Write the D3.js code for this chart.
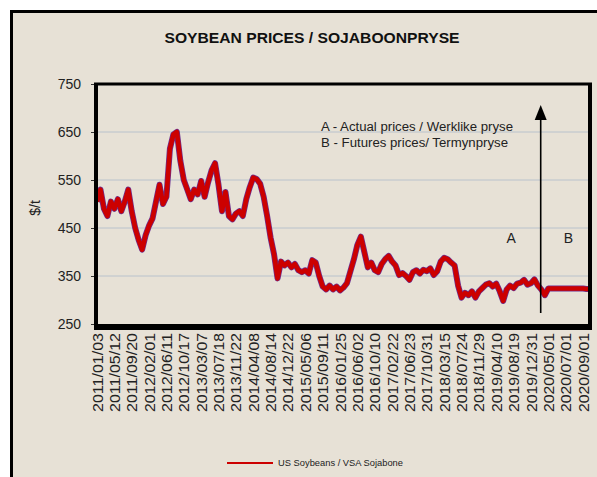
<!DOCTYPE html>
<html>
<head>
<meta charset="utf-8">
<script src="https://cdn.jsdelivr.net/npm/d3@7"></script>
<style>
  body { margin: 0; background: #fff; }
  svg { display: block; font-family: Arial, "Liberation Sans", sans-serif; }
</style>
</head>
<body>
<div id="chart"></div>
<script>
// tick labels on the category axis (one every 5 samples)
const dateLabels = [
  "2011/01/03", "2011/05/12", "2011/09/20", "2012/02/01", "2012/06/11", "2012/10/17",
  "2013/03/07", "2013/07/18", "2013/11/22", "2014/04/08", "2014/08/14", "2014/12/22",
  "2015/05/06", "2015/09/11", "2016/01/25", "2016/06/02", "2016/10/10", "2017/02/22",
  "2017/06/23", "2017/10/31", "2018/03/15", "2018/07/24", "2018/11/29", "2019/04/10",
  "2019/08/19", "2019/12/31", "2020/05/01", "2020/07/01", "2020/09/01"
];
const labelStep = 5;

// US soybean price, $/t
const prices = [
  505, 530, 490, 475, 505, 490, 510, 485, 505, 530,
  485, 450, 425, 405, 435, 455, 470, 505, 540, 500,
  515, 615, 645, 650, 590, 550, 530, 510, 530, 520,
  548, 515, 545, 570, 585, 540, 485, 525, 475, 468,
  480, 485, 475, 510, 535, 555, 552, 542, 515, 475,
  430, 395, 345, 380, 372, 378, 368, 375, 362, 358,
  362, 355, 383, 378, 350, 328, 322, 330, 322, 328,
  320, 326, 335, 360, 385, 415, 432, 400, 368, 378,
  362, 358, 375, 385, 392, 380, 372, 352, 356, 350,
  342, 358, 362, 355, 363, 360, 366, 352, 360, 380,
  388, 385, 378, 372, 330, 305, 315, 310, 318, 305,
  318, 325, 332, 335, 328, 334, 318, 298, 322, 330,
  325, 334, 336, 342, 332, 335, 343, 330, 322, 310,
  324, 324, 324, 324, 324, 324, 324, 324, 324, 324,
  324, 323, 323
];
const splitIndex = 127.8; // where actual prices (A) end and futures (B) begin

const yTicks = [250, 350, 450, 550, 650, 750];
const gridValues = [350, 450, 550, 650];

const W = 597, H = 477;
const plot = { left: 97, right: 590, top: 84, bottom: 324 };

const svg = d3.select("#chart").append("svg")
  .attr("width", W)
  .attr("height", H);

// outer panel
svg.append("rect")
  .attr("x", 11.5).attr("y", 11.5)
  .attr("width", W + 20).attr("height", H + 20)
  .attr("fill", "#e7e1d6")
  .attr("stroke", "#000")
  .attr("stroke-width", 3);

const x = d3.scaleLinear()
  .domain([0, prices.length - 1])
  .range([plot.left, plot.right]);

const y = d3.scaleLinear()
  .domain([250, 750])
  .range([plot.bottom, plot.top]);

// title
svg.append("text")
  .attr("x", 312).attr("y", 43)
  .attr("text-anchor", "middle")
  .attr("font-weight", "bold")
  .attr("font-size", 15)
  .attr("fill", "#111")
  .attr("textLength", 295)
  .attr("lengthAdjust", "spacingAndGlyphs")
  .text("SOYBEAN PRICES / SOJABOONPRYSE");

// grid
svg.append("g").selectAll("line")
  .data(gridValues)
  .join("line")
  .attr("x1", plot.left).attr("x2", plot.right)
  .attr("y1", d => y(d)).attr("y2", d => y(d))
  .attr("stroke", "#b9c2cc")
  .attr("stroke-width", 1);

// y axis
const yAxis = svg.append("g")
  .attr("transform", `translate(${plot.left},0)`)
  .call(d3.axisLeft(y).tickValues(yTicks).tickSize(6).tickPadding(10));
yAxis.select(".domain").remove();
yAxis.selectAll("line").attr("stroke", "#333");
yAxis.selectAll("text")
  .attr("font-size", 14)
  .attr("fill", "#222")
  .attr("font-family", "Arial, 'Liberation Sans', sans-serif");

svg.append("text")
  .attr("transform", "translate(40,208) rotate(-90)")
  .attr("text-anchor", "middle")
  .attr("font-size", 14)
  .attr("fill", "#222")
  .text("$/t");

// x axis labels
const xAxis = svg.append("g")
  .attr("transform", `translate(0,${plot.bottom})`)
  .call(d3.axisBottom(x)
    .tickValues(dateLabels.map((d, i) => i * labelStep))
    .tickFormat((d, i) => dateLabels[i])
    .tickSize(0));
xAxis.select(".domain").remove();
xAxis.selectAll("text")
  .attr("font-size", 14)
  .attr("fill", "#222")
  .attr("font-family", "Arial, 'Liberation Sans', sans-serif")
  .attr("text-anchor", "end")
  .attr("textLength", 79)
  .attr("lengthAdjust", "spacingAndGlyphs")
  .attr("transform", "rotate(-90)")
  .attr("x", -9)
  .attr("y", 0)
  .attr("dy", "0.36em");

// price line
const line = d3.line()
  .x((d, i) => x(i))
  .y(d => y(d));

svg.append("path")
  .datum(prices)
  .attr("d", line)
  .attr("fill", "none")
  .attr("stroke", "#6b2f8f")
  .attr("stroke-width", 6)
  .attr("stroke-linejoin", "round");

svg.append("path")
  .datum(prices)
  .attr("d", line)
  .attr("fill", "none")
  .attr("stroke", "#cc0000")
  .attr("stroke-width", 4.6)
  .attr("stroke-linejoin", "round");

// plot frame
svg.append("line")
  .attr("x1", plot.left - 1).attr("x2", plot.left - 1)
  .attr("y1", plot.top - 1).attr("y2", plot.bottom + 5)
  .attr("stroke", "#000").attr("stroke-width", 4);
svg.append("line")
  .attr("x1", plot.left - 3).attr("x2", plot.right + 2)
  .attr("y1", plot.top).attr("y2", plot.top)
  .attr("stroke", "#000").attr("stroke-width", 3);
svg.append("line")
  .attr("x1", plot.right).attr("x2", plot.right)
  .attr("y1", plot.top - 1).attr("y2", plot.bottom + 5)
  .attr("stroke", "#000").attr("stroke-width", 4);
svg.append("line")
  .attr("x1", plot.left - 3).attr("x2", plot.right + 2)
  .attr("y1", plot.bottom + 3).attr("y2", plot.bottom + 3)
  .attr("stroke", "#000").attr("stroke-width", 6);

// divider arrow between actual and futures
const ax = x(splitIndex);
svg.append("line")
  .attr("x1", ax).attr("x2", ax)
  .attr("y1", 313).attr("y2", 116)
  .attr("stroke", "#000").attr("stroke-width", 1.6);
svg.append("path")
  .attr("d", `M${ax},105 L${ax - 6},120 L${ax + 6},120 Z`)
  .attr("fill", "#000");

svg.append("text")
  .attr("x", x(splitIndex - 8.5)).attr("y", 243)
  .attr("text-anchor", "middle")
  .attr("font-size", 14)
  .attr("fill", "#222")
  .text("A");
svg.append("text")
  .attr("x", x(splitIndex + 8)).attr("y", 243)
  .attr("text-anchor", "middle")
  .attr("font-size", 14)
  .attr("fill", "#222")
  .text("B");

// note
const notes = ["A - Actual prices / Werklike pryse", "B - Futures prices/ Termynpryse"];
const noteWidths = [192, 187];
svg.append("g").selectAll("text")
  .data(notes)
  .join("text")
  .attr("x", 321)
  .attr("y", (d, i) => 131 + i * 16)
  .attr("font-size", 12.5)
  .attr("fill", "#222")
  .attr("textLength", (d, i) => noteWidths[i])
  .attr("lengthAdjust", "spacingAndGlyphs")
  .text(d => d);

// legend
svg.append("line")
  .attr("x1", 227).attr("x2", 273)
  .attr("y1", 463).attr("y2", 463)
  .attr("stroke", "#cc0000")
  .attr("stroke-width", 2);
svg.append("text")
  .attr("x", 278).attr("y", 466)
  .attr("font-size", 9)
  .attr("fill", "#222")
  .attr("textLength", 125)
  .attr("lengthAdjust", "spacingAndGlyphs")
  .text("US Soybeans / VSA Sojabone");
</script>
</body>
</html>
